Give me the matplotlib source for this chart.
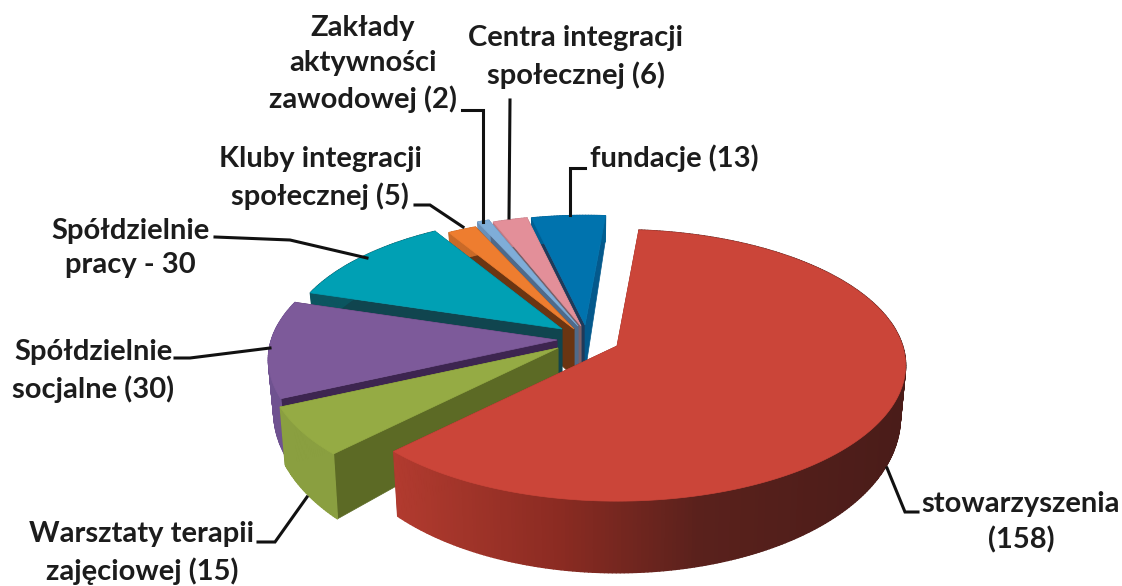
import numpy as np
import matplotlib
matplotlib.use('Agg')
import matplotlib.pyplot as plt
from matplotlib.collections import PolyCollection
from matplotlib.colors import to_rgb

# counts, clockwise from the top
labels = ['stowarzyszenia\n(158)', 'Warsztaty terapii\nzajęciowej (15)', 'Spółdzielnie\nsocjalne (30)',
          'Spółdzielnie\npracy - 30', 'Kluby integracji\nspołecznej (5)', 'Zakłady\naktywności\nzawodowej (2)',
          'Centra integracji\nspołecznej (6)', 'fundacje (13)']
values = [158, 15, 30, 30, 5, 2, 6, 13]

# look of each slice (all in pixels of the picture)
apex_x = [617, 558, 557, 562, 574, 578, 581, 585]
apex_y = [346, 348, 340, 329, 329, 326, 326, 325]
radius = [0.985, 0.99, 0.985, 0.945, 0.93, 0.95, 0.93, 0.92]
top_col = ['#cb4539', '#95ab44', '#7d5a9a', '#00a0b4', '#ee7d2f', '#7fadd8', '#e38f99', '#0073ae']
arc_col = ['#8b2b22', '#8a9f40', '#6f5290', '#0b5560', '#c96a28', '#6a90b8', '#c07a84', '#005f92']
start_wall = ['#7a2a22', '#5c6a25', '#3d2550', '#10454f', '#6b3512', '#4f6a8a', '#7a6068', '#1f3a5a']
end_wall = ['#7a2a22', '#5c6a25', '#3d2550', '#10454f', '#6b3512', '#4f6a8a', '#7a6068', '#04598c']
draw_order = [7, 6, 5, 4, 3, 2, 1, 0]

first_angle = 5.0
R = 290.0
S = 135.0
P = 0.145

# red side wall shading, left to right
red_x = [393, 560, 700, 900]
red_c = ['#b23b2f', '#8b2b22', '#5a211c', '#4a1c19']

text_x = [1021, 142, 93, 130, 320, 363, 576, 674]
text_y = [522, 553, 371, 248, 178, 64, 57, 158]
line_x = [[887, 905, 918], [307, 275, 258], [270, 190, 175], [367, 290, 215], [463, 430, 415],
          [483, 483, 462], [509, 510], [570, 570, 585]]
line_y = [[468, 512, 512], [497, 542, 542], [348, 358, 358], [258, 240, 237], [227, 205, 205],
          [222, 110, 110], [218, 100], [215, 168, 168]]


def project(th, rad, ax_, ay_):
    u = np.sin(th) * rad
    v = np.cos(th) * rad
    w = 1 + P * v
    x = ax_ + u * R / w
    y = ay_ - v * S / w
    return x, y, v


def depth(v):
    return 48 - 24 * v


def lower(x, y, v, ax_):
    return ax_ + (x - ax_) * 0.982, y + depth(v)


fig = plt.figure(figsize=(11.22, 5.86), dpi=100)
ax = fig.add_axes([0, 0, 1, 1])
ax.set_xlim(0, 1122)
ax.set_ylim(586, 0)
ax.axis('off')

edges = first_angle + np.concatenate([[0], np.cumsum(values)]) / sum(values) * 360

for i in draw_order:
    th = np.radians(np.linspace(edges[i], edges[i + 1], max(int(values[i]) * 2, 8) + 1))
    x, y, v = project(th, radius[i], apex_x[i], apex_y[i])
    bx, by = lower(x, y, v, apex_x[i])
    ax0 = apex_x[i]
    ay0 = apex_y[i]
    bay = ay0 + depth(0)

    # straight walls
    ax.fill([ax0, x[0], bx[0], ax0], [ay0, y[0], by[0], bay], color=start_wall[i], lw=0.5, zorder=2)
    ax.fill([ax0, x[-1], bx[-1], ax0], [ay0, y[-1], by[-1], bay], color=end_wall[i], lw=0.5, zorder=2)

    # round wall as small strips
    quads = []
    cols = []
    for k in range(len(x) - 1):
        quads.append([(x[k], y[k]), (x[k + 1], y[k + 1]), (bx[k + 1], by[k + 1]), (bx[k], by[k])])
        if i == 0:
            cols.append([np.interp(x[k], red_x, [to_rgb(c)[n] for c in red_c]) for n in range(3)])
        else:
            cols.append(to_rgb(arc_col[i]))
    ax.add_collection(PolyCollection(quads, facecolors=cols, edgecolors=cols, linewidths=1.0, zorder=2))

    # top
    ax.fill(np.r_[ax0, x], np.r_[ay0, y], color=top_col[i], lw=0.5, zorder=2)

for lx, ly in zip(line_x, line_y):
    ax.plot(lx, ly, color='#111111', lw=2.2, solid_joinstyle='miter', zorder=3)

for lab, tx, ty in zip(labels, text_x, text_y):
    ax.text(tx, ty, lab, ha='center', va='center', family='Lato', weight='bold', fontsize=21,
            color='#1c1c1c', linespacing=1.42, zorder=4)

fig.savefig('out.png', dpi=100)
